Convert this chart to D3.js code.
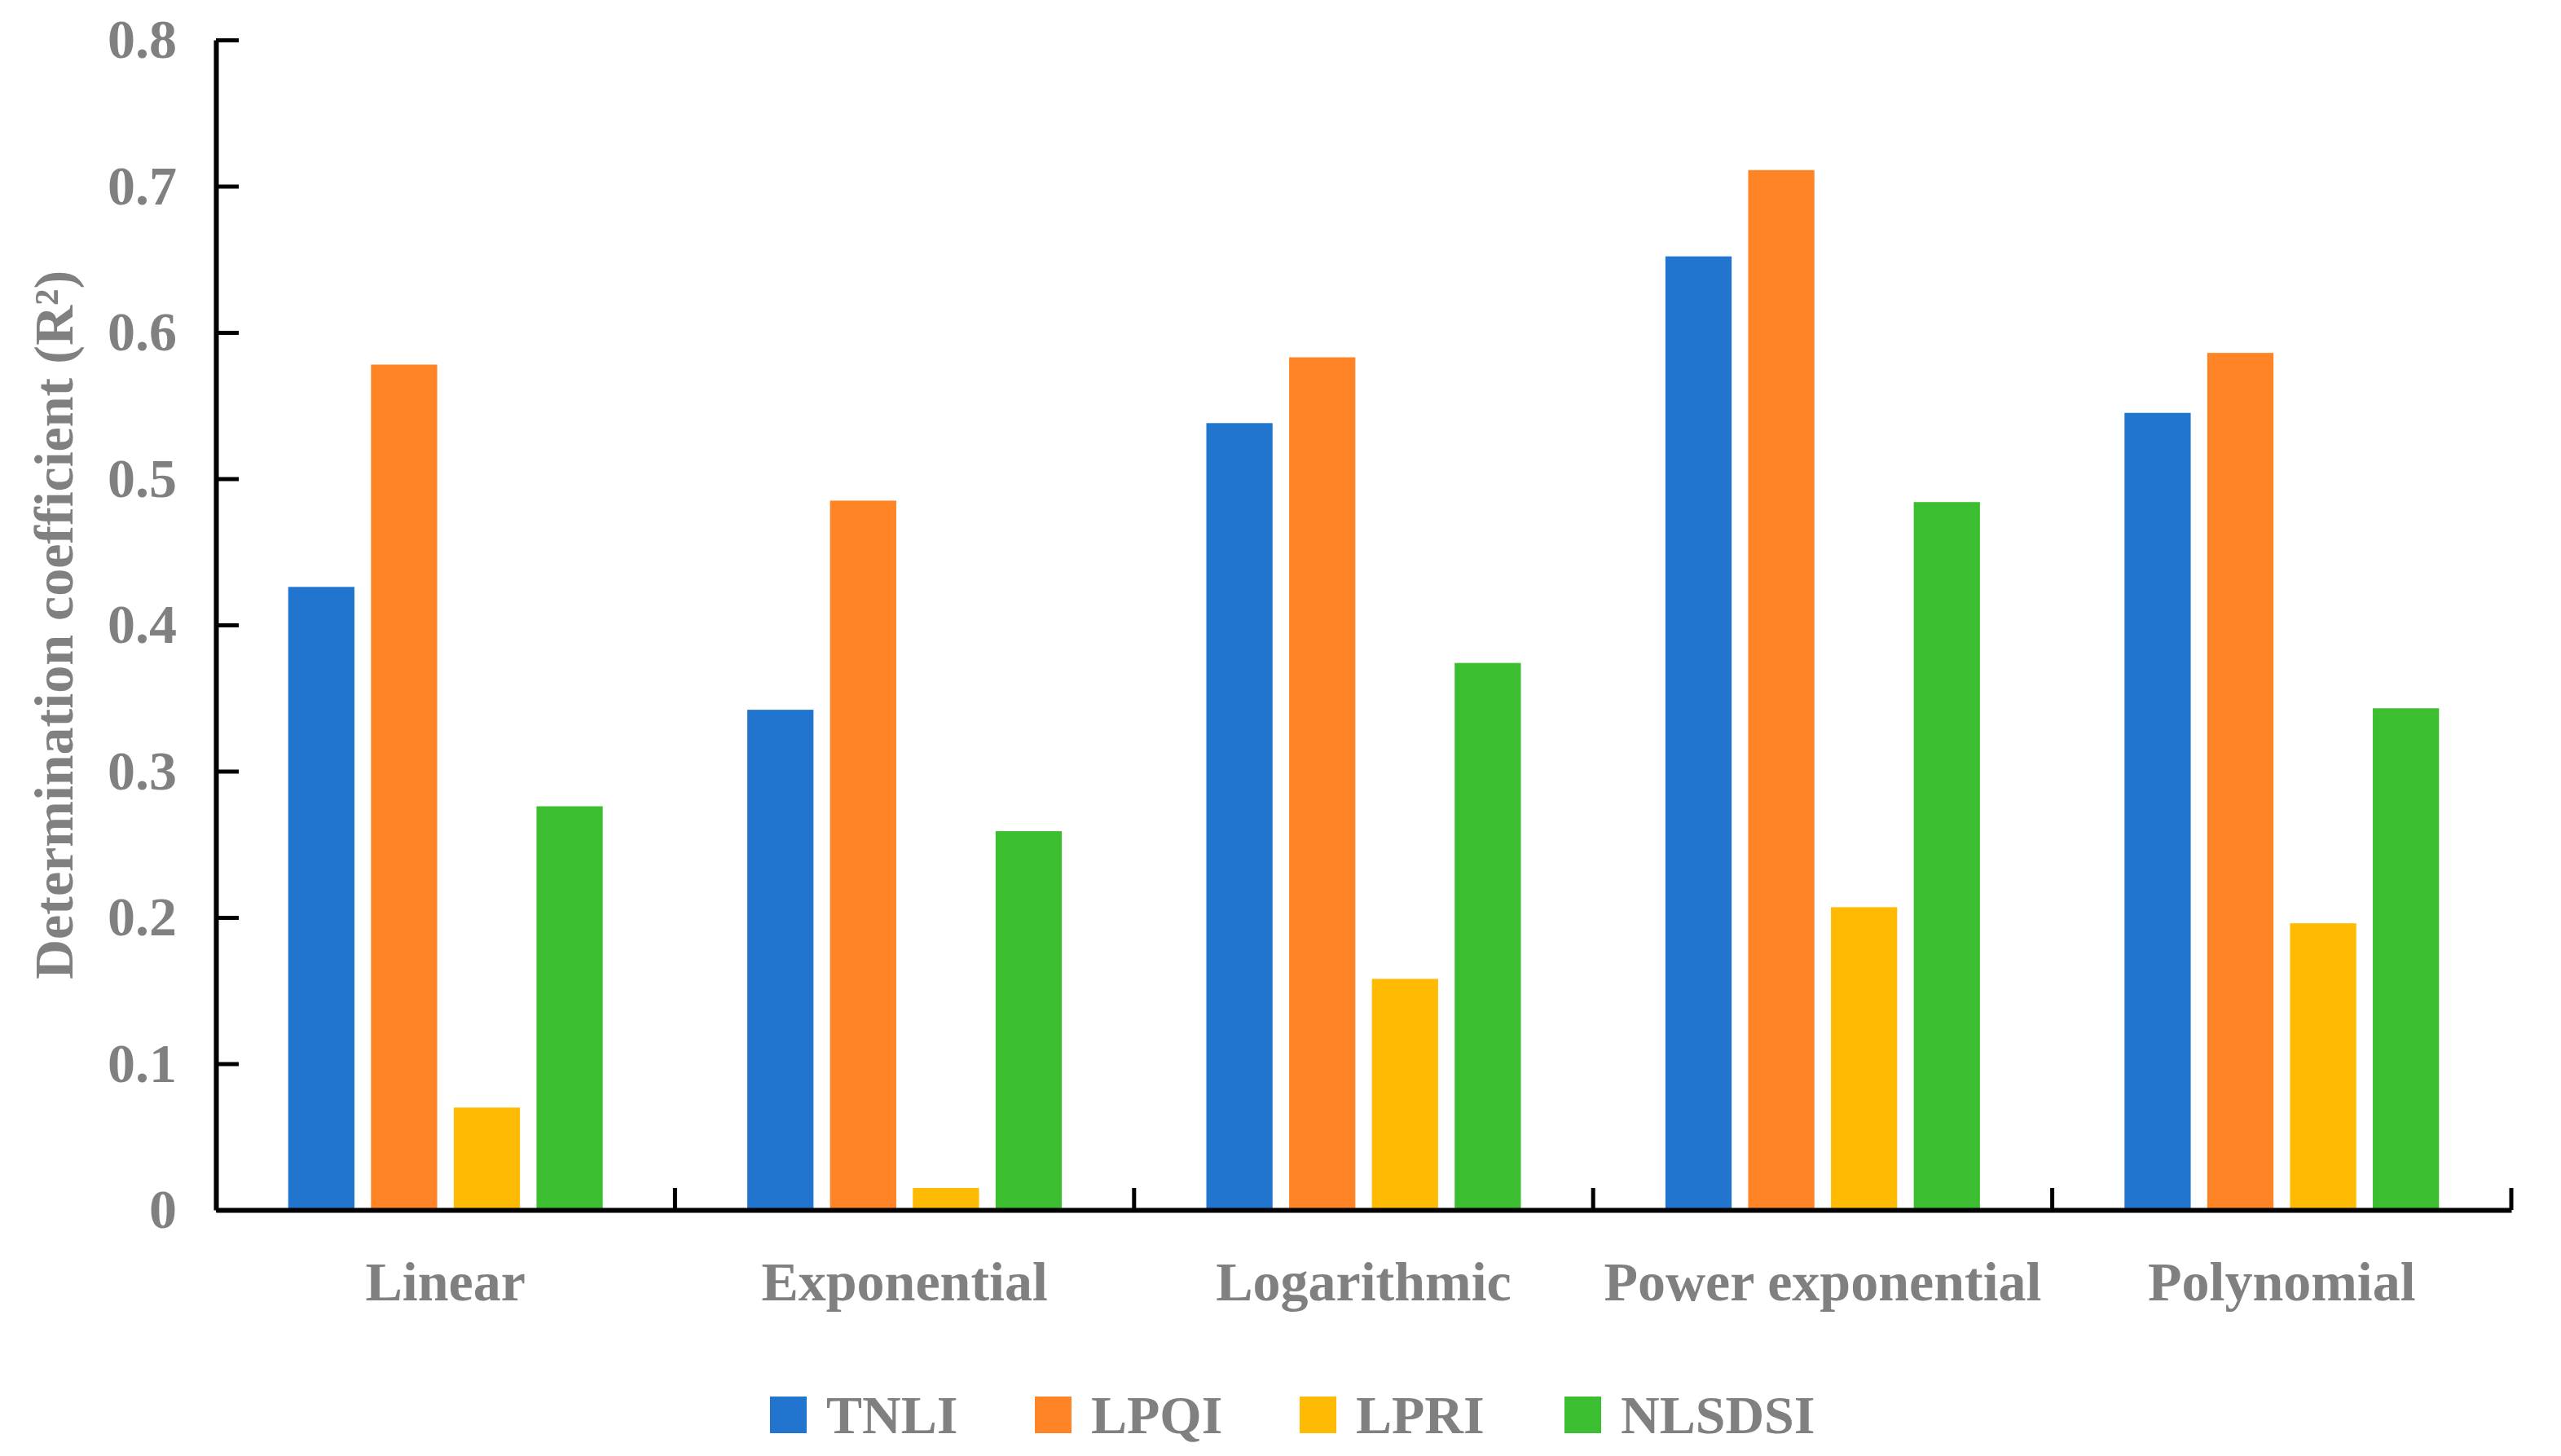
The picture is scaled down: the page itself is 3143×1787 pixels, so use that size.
<!DOCTYPE html>
<html>
<head>
<meta charset="utf-8">
<script src="https://cdn.jsdelivr.net/npm/d3@7"></script>
<style>
body { margin: 0; background: #fff; }
text { font-family: "Liberation Serif", "Times New Roman", serif; font-weight: bold; fill: #808080; }
</style>
</head>
<body>
<svg id="chart" width="3143" height="1787"></svg>
<script>
(function () {
// data
var categories = ["Linear", "Exponential", "Logarithmic", "Power exponential", "Polynomial"]
var series = ["TNLI", "LPQI", "LPRI", "NLSDSI"]
var colors = ["#2275CF", "#FF8425", "#FFBA03", "#3CBE31"]
var tnli = [0.426, 0.342, 0.538, 0.652, 0.545]
var lpqi = [0.578, 0.485, 0.583, 0.711, 0.586]
var lpri = [0.070, 0.015, 0.158, 0.207, 0.196]
var nlsdsi = [0.276, 0.259, 0.374, 0.484, 0.343]
var yTicks = [0, 0.1, 0.2, 0.3, 0.4, 0.5, 0.6, 0.7, 0.8]

var values = [tnli, lpqi, lpri, nlsdsi]

var svg = d3.select("#chart")

var left = 265, right = 3082, top = 49, bottom = 1485

var y = d3.scaleLinear().domain([0, 0.8]).range([bottom, top])
var x0 = d3.scaleBand().domain(categories).range([left, right]).padding(0)
var groupW = 386
var x1 = d3.scaleBand().domain(series).range([0, groupW]).paddingInner(0.2)
var color = d3.scaleOrdinal().domain(series).range(colors)

// bars
var rows = []
categories.forEach(function (c, i) {
  series.forEach(function (s, j) {
    rows.push({ cat: c, ser: s, v: values[j][i] })
  })
})

svg.append("g").selectAll("rect")
  .data(rows)
  .enter()
  .append("rect")
  .attr("x", function (d) { return x0(d.cat) + (x0.step() - groupW) / 2 + x1(d.ser) })
  .attr("y", function (d) { return y(d.v) })
  .attr("width", x1.bandwidth())
  .attr("height", function (d) { return y(0) - y(d.v) })
  .style("fill", function (d) { return color(d.ser) })

// y axis, ticks pointing inside
var yAxis = svg.append("g")
  .attr("transform", "translate(" + left + ",0)")
  .call(d3.axisLeft(y).tickValues(yTicks).tickSizeInner(-28).tickSizeOuter(0).tickPadding(48)
    .tickFormat(function (d) { return d === 0 ? "0" : d3.format(".1f")(d) }))
yAxis.select(".domain").attr("stroke", "#000").attr("stroke-width", 6)
yAxis.selectAll(".tick line").attr("stroke", "#000").attr("stroke-width", 5)
yAxis.selectAll("text").style("font-size", "68px").attr("fill", null)

// x axis
var xAxis = svg.append("g")
  .attr("transform", "translate(0," + bottom + ")")
  .call(d3.axisBottom(x0).tickSize(0).tickSizeOuter(0))
xAxis.select(".domain").attr("stroke", "#000").attr("stroke-width", 6)
xAxis.selectAll("text")
  .attr("y", 111)
  .attr("dy", null)
  .style("font-size", "68px")
  .attr("fill", null)

// category boundary ticks
var bounds = categories.map(function (c) { return x0(c) + x0.step() })
svg.append("g").selectAll("line")
  .data(bounds)
  .enter()
  .append("line")
  .attr("x1", function (d) { return d })
  .attr("x2", function (d) { return d })
  .attr("y1", bottom)
  .attr("y2", bottom - 27)
  .attr("stroke", "#000")
  .attr("stroke-width", 5)

// y title
svg.append("text")
  .attr("transform", "translate(89," + ((top + bottom) / 2) + ") rotate(-90)")
  .attr("text-anchor", "middle")
  .style("font-size", "68px")
  .text("Determination coefficient (R²)")

// legend
var legend = svg.append("g")
legend.selectAll("rect")
  .data(series)
  .enter()
  .append("rect")
  .attr("x", function (d, i) { return 945 + i * 325 })
  .attr("y", 1714)
  .attr("width", 45)
  .attr("height", 45)
  .style("fill", function (d) { return color(d) })
legend.selectAll("text")
  .data(series)
  .enter()
  .append("text")
  .attr("x", function (d, i) { return 1014 + i * 325 })
  .attr("y", 1759)
  .style("font-size", "66px")
  .text(function (d) { return d })
})();
</script>
</body>
</html>
